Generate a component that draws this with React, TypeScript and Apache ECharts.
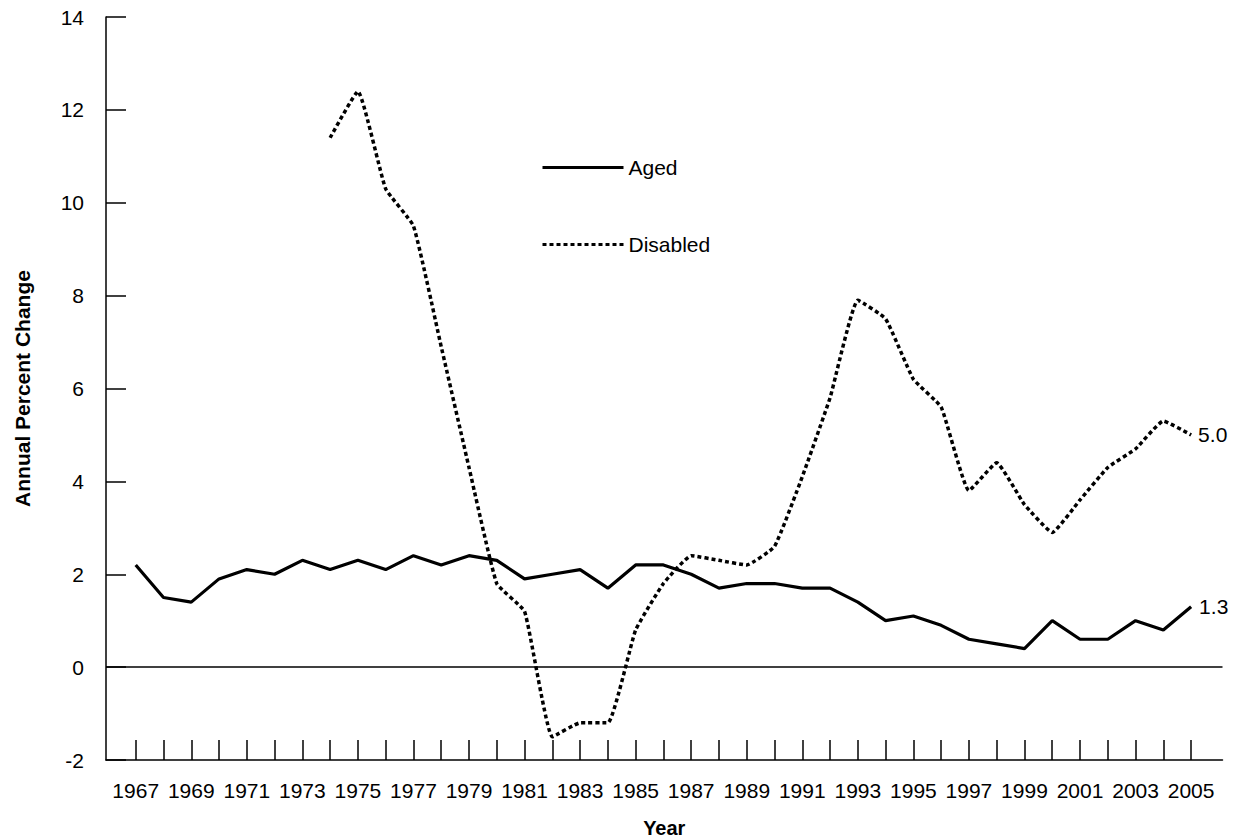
import React, { useEffect, useRef } from "react";
import * as echarts from "echarts";

const agedYears = [
  1967, 1968, 1969, 1970, 1971, 1972, 1973, 1974, 1975, 1976,
  1977, 1978, 1979, 1980, 1981, 1982, 1983, 1984, 1985, 1986,
  1987, 1988, 1989, 1990, 1991, 1992, 1993, 1994, 1995, 1996,
  1997, 1998, 1999, 2000, 2001, 2002, 2003, 2004, 2005,
];
const agedValues = [
  2.2, 1.5, 1.4, 1.9, 2.1, 2.0, 2.3, 2.1, 2.3, 2.1,
  2.4, 2.2, 2.4, 2.3, 1.9, 2.0, 2.1, 1.7, 2.2, 2.2,
  2.0, 1.7, 1.8, 1.8, 1.7, 1.7, 1.4, 1.0, 1.1, 0.9,
  0.6, 0.5, 0.4, 1.0, 0.6, 0.6, 1.0, 0.8, 1.3,
];
const disabledYears = [
  1974, 1975, 1976, 1977, 1978, 1979, 1980, 1981, 1982, 1983,
  1984, 1985, 1986, 1987, 1988, 1989, 1990, 1991, 1992, 1993,
  1994, 1995, 1996, 1997, 1998, 1999, 2000, 2001, 2002, 2003,
  2004, 2005,
];
const disabledValues = [
  11.4, 12.4, 10.3, 9.5, 6.9, 4.3, 1.8, 1.2, -1.5, -1.2,
  -1.2, 0.8, 1.8, 2.4, 2.3, 2.2, 2.6, 4.1, 5.8, 7.9,
  7.5, 6.2, 5.6, 3.8, 4.4, 3.5, 2.9, 3.6, 4.3, 4.7,
  5.3, 5.0,
];
const tickYears = agedYears;
const labelYears = [
  1967, 1969, 1971, 1973, 1975, 1977, 1979, 1981, 1983, 1985,
  1987, 1989, 1991, 1993, 1995, 1997, 1999, 2001, 2003, 2005,
];

const FONT = "'Liberation Sans', Arial, Helvetica, sans-serif";
const FS = 21;

export default function App() {
  const ref = useRef<HTMLDivElement>(null);
  useEffect(() => {
    if (!ref.current) return;
    const chart = echarts.init(ref.current, null, { renderer: "svg" });
    const axisLine = { lineStyle: { color: "#000", width: 1.5 } };
    chart.setOption({
      animation: false,
      backgroundColor: "#fff",
      textStyle: { fontFamily: FONT, color: "#000" },
      grid: {
        left: 106,
        right: 18.5,
        top: 17,
        bottom: 80,
        containLabel: false,
        outerBoundsMode: "none",
      },
      legend: {
        orient: "vertical",
        left: 541,
        top: 157,
        padding: 0,
        itemWidth: 81,
        itemHeight: 20,
        itemGap: 56,
        itemStyle: { opacity: 0 },
        lineStyle: { width: 3 },
        textStyle: { fontSize: FS, color: "#000", fontFamily: FONT },
        data: ["Aged", "Disabled"],
      },
      xAxis: {
        type: "value",
        min: 1965.93,
        max: 2006.13,
        name: "Year",
        nameLocation: "middle",
        nameGap: 58,
        nameTextStyle: { fontSize: 20, fontWeight: "bold", color: "#000", fontFamily: FONT },
        axisLine: { show: true, onZero: false, ...axisLine },
        axisTick: { show: true, inside: true, length: 20, customValues: tickYears, lineStyle: { color: "#000", width: 1.5 } },
        axisLabel: {
          customValues: labelYears,
          fontSize: FS,
          color: "#000",
          margin: 20,
          fontFamily: FONT,
          formatter: (v: number) => String(Math.round(v)),
        },
        splitLine: { show: false },
      },
      yAxis: {
        type: "value",
        min: -2,
        max: 14,
        interval: 2,
        name: "Annual Percent Change",
        nameLocation: "middle",
        nameRotate: 90,
        nameGap: 73,
        nameTextStyle: { fontSize: 21, fontWeight: "bold", color: "#000", fontFamily: FONT },
        axisLine: { show: true, ...axisLine },
        axisTick: { show: true, inside: true, length: 20, lineStyle: { color: "#000", width: 1.5 } },
        axisLabel: { fontSize: FS, color: "#000", margin: 22, fontFamily: FONT },
        splitLine: { show: false },
      },
      series: [
        {
          name: "Aged",
          type: "line",
          symbol: "none",
          data: agedYears.map((y, i) => [y, agedValues[i]]),
          lineStyle: { color: "#000", width: 3.2 },
          itemStyle: { color: "#000" },
          endLabel: {
            show: true,
            distance: 8,
            fontSize: FS,
            color: "#000",
            fontFamily: FONT,
            formatter: (p: any) => Number(p.value[1]).toFixed(1),
          },
          markLine: {
            silent: true,
            symbol: "none",
            label: { show: false },
            lineStyle: { color: "#000", width: 1.5, type: "solid" },
            data: [{ yAxis: 0 }],
          },
          z: 3,
        },
        {
          name: "Disabled",
          type: "line",
          symbol: "none",
          smooth: 0.12,
          data: disabledYears.map((y, i) => [y, disabledValues[i]]),
          lineStyle: { color: "#000", width: 3.5, type: [4, 3] },
          itemStyle: { color: "#000" },
          endLabel: {
            show: true,
            distance: 7,
            fontSize: FS,
            color: "#000",
            fontFamily: FONT,
            formatter: (p: any) => Number(p.value[1]).toFixed(1),
          },
          z: 2,
        },
      ],
    });
    return () => chart.dispose();
  }, []);
  return (
    <div
      ref={ref}
      style={{ position: "fixed", left: 0, top: 0, width: 1241, height: 840, background: "#fff" }}
    />
  );
}
